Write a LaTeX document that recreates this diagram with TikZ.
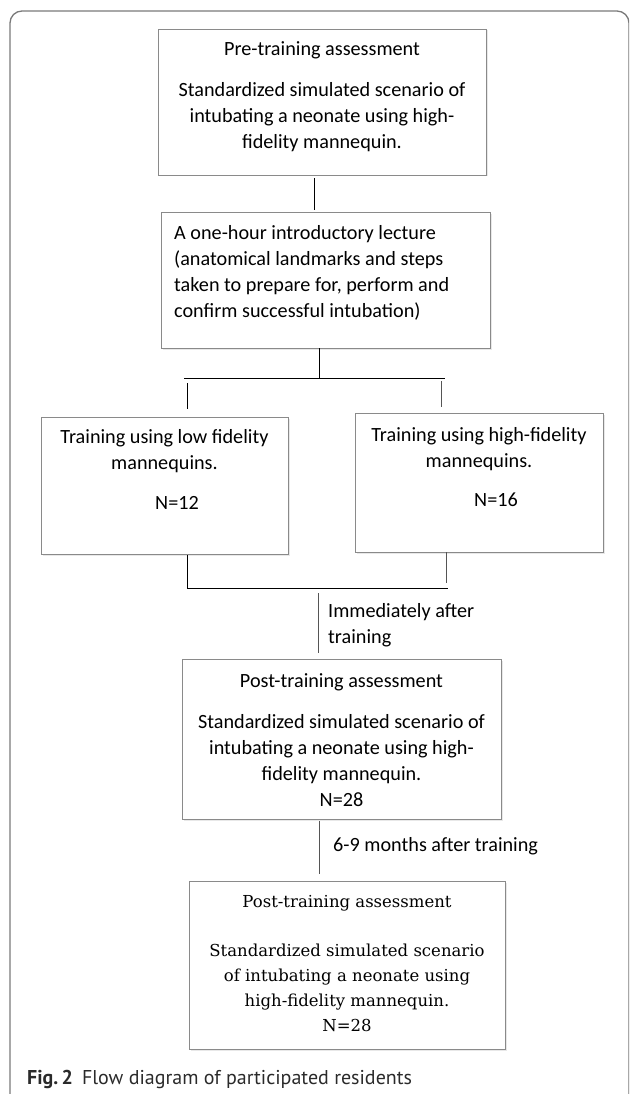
\documentclass[tikz,border=0pt]{standalone}
\usepackage{fontspec}
\setmainfont{Carlito}
\newfontfamily\serifbox{DejaVu Serif}
\newfontfamily\capfont{PT Sans}
\usetikzlibrary{shadows}
\definecolor{boxgray}{HTML}{8A8A8A}
\definecolor{linegray}{HTML}{555555}
\definecolor{framegray}{HTML}{7A7A7A}
\definecolor{capgray}{HTML}{2A2A2A}
\begin{document}
\begin{tikzpicture}[x=1pt,y=-1pt,
  box/.style={draw=boxgray, line width=0.9pt, fill=white, rectangle, inner sep=0pt,
    drop shadow={opacity=0.18, shadow xshift=1.5pt, shadow yshift=-1.5pt}},
  txt/.style={inner sep=0pt, align=center, font=\fontsize{20.2}{26}\selectfont},
  stxt/.style={inner sep=0pt, align=center, font=\serifbox\fontsize{16.5}{25}\selectfont},
  link/.style={line width=1pt, draw=black},
  glink/.style={line width=1pt, draw=linegray}]
\useasboundingbox (0,0) rectangle (629,1094);
\begin{scope}
  \clip (0,0) rectangle (629,1094);
  \draw[framegray, line width=1.3pt, rounded corners=12pt] (10,11) rectangle (629,1110);
\end{scope}
% boxes
\node[box, minimum width=328pt, minimum height=146pt] (b1) at (322,102) {};
\node[box, minimum width=329pt, minimum height=136pt] (b2) at (325.5,280) {};
\node[box, minimum width=247pt, minimum height=137pt] (b3) at (164.5,485.5) {};
\node[box, minimum width=248pt, minimum height=139pt] (b4) at (479,482.5) {};
\node[box, minimum width=319pt, minimum height=160pt] (b5) at (341.5,739) {};
\node[box, minimum width=316pt, minimum height=168pt] (b6) at (347,965) {};
% texts
\node[txt] (t1) at (322,96.5) {Pre-training assessment\\[15pt]Standardized simulated scenario of\\intubating a neonate using high-\\fidelity mannequin.};
\node[txt, align=left, anchor=west] (t2) at (174,272.5) {A one-hour introductory lecture\\(anatomical landmarks and steps\\taken to prepare for, perform and\\confirm successful intubation)};
\node[txt] (t3) at (164.5,451.5) {Training using low fidelity\\mannequins.};
\node[txt] (n3) at (177,503) {N=12};
\node[txt] (t4) at (479,449) {Training using high-fidelity\\mannequins.};
\node[txt] (n4) at (496,500) {N=16};
\node[txt] (t5) at (341.5,740) {Post-training assessment\\[15pt]Standardized simulated scenario of\\intubating a neonate using high-\\fidelity mannequin.\\N=28};
\node[stxt] (t6) at (347,964) {Post-training assessment\\[24pt]Standardized simulated scenario\\of intubating a neonate using\\high-fidelity mannequin.\\N=28};
% labels
\node[txt, align=left, anchor=west] (l1) at (328,625) {Immediately after\\training};
\node[txt, anchor=west] (l2) at (333,846) {6-9 months after training};
\node[inner sep=0pt, anchor=west, text=capgray, font=\capfont\fontsize{20}{24}\selectfont] (cap) at (27,1079) {\textbf{Fig.\,2}\hspace{9pt}Flow diagram of participated residents};
% junction coordinates
\coordinate (xa) at (314,0);
\coordinate (xb) at (319,0);
\coordinate (xl) at (187,0);
\coordinate (xr) at (441,0);
\coordinate (xr2) at (446,0);
\coordinate (xc) at (318,0);
\coordinate (bus1L) at (184,378);
\coordinate (bus1R) at (445,378);
\coordinate (bus2L) at (187,588);
\coordinate (bus2R) at (448,588);
% connectors
\draw[link, shorten <=3pt, shorten >=2pt] (b1.south -| xa) -- (b2.north -| xa);
\draw[link] (b2.south -| xb) -- (bus1L -| xb);
\draw[link] (bus1L) -- (bus1R);
\draw[link, shorten <=5pt, shorten >=8pt] (bus1L -| xl) -- (b3.north -| xl);
\draw[glink, shorten <=3pt, shorten >=6pt] (bus1L -| xr) -- (b4.north -| xr);
\draw[link, shorten <=1pt] (b3.south -| xl) -- (bus2L -| xl);
\draw[glink, shorten >=5pt] (b4.south -| xr2) -- (bus2L -| xr2);
\draw[link] (bus2L) -- (bus2R);
\draw[glink, shorten <=5pt, shorten >=6pt] (bus2L -| xc) -- (b5.north -| xc);
\draw[glink, shorten <=2pt, shorten >=7pt] (b5.south -| xb) -- (b6.north -| xb);
\end{tikzpicture}
\end{document}
